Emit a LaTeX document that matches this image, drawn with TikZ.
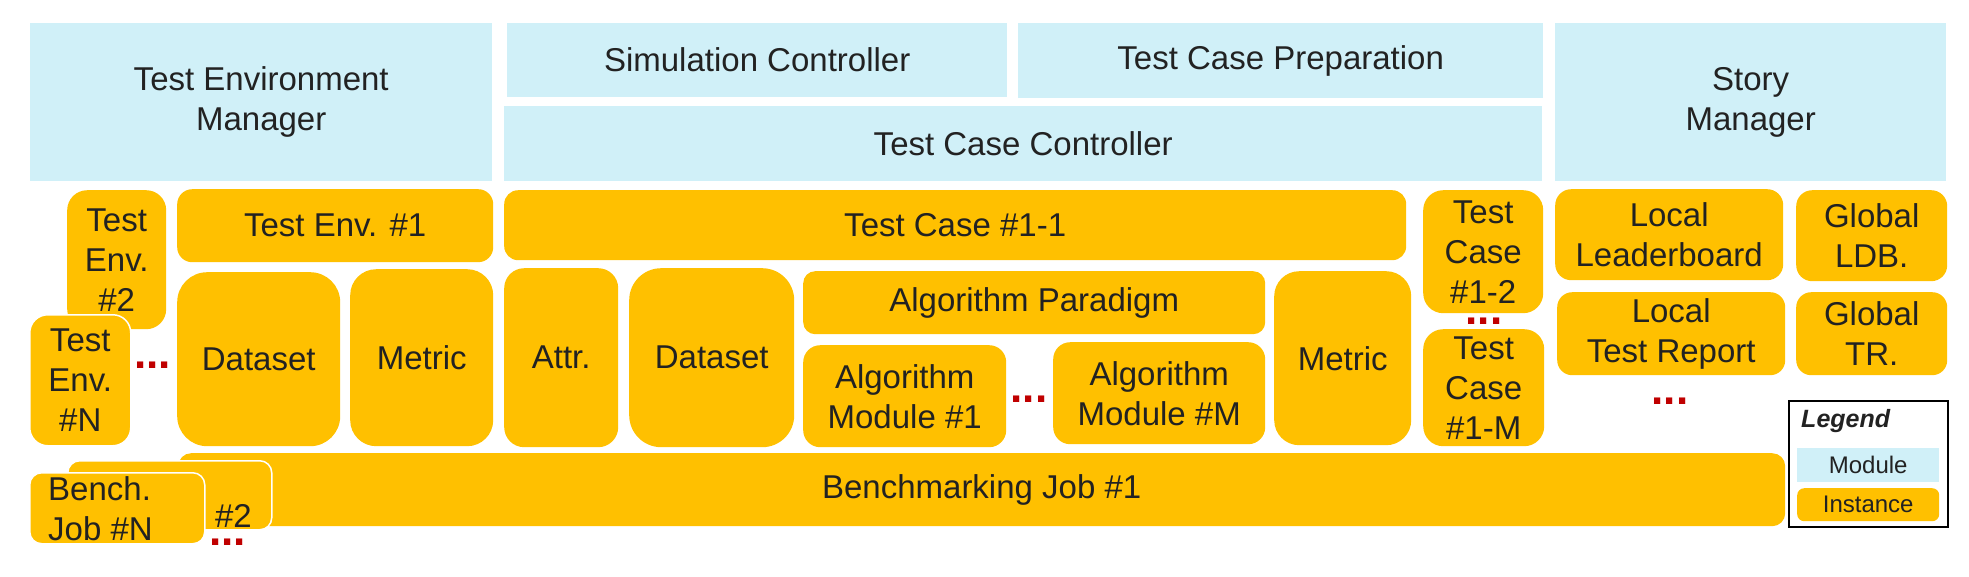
\documentclass[tikz,border=0pt]{standalone}
\usepackage{fontspec}
\setmainfont{Liberation Sans}
\definecolor{modcol}{RGB}{208,240,248}
\definecolor{instcol}{RGB}{255,192,0}
\definecolor{dotcol}{RGB}{192,0,0}
\definecolor{txtcol}{RGB}{34,34,34}
\tikzset{
    box/.style={anchor=north west, inner sep=0pt, align=center, text=txtcol, font=\fontsize{33}{40}\selectfont},
    sz/.style 2 args={minimum width=#1pt, minimum height=#2pt},
    module/.style={box, fill=modcol},
    inst/.style={box, fill=instcol, rounded corners=#1},
    inst/.default=14pt,
    over/.style={draw=white, line width=1.5pt},
    moredots/.style={anchor=base, inner sep=0pt, text=dotcol, font=\fontsize{44}{44}\selectfont\bfseries},
    small/.style={font=\fontsize{24}{28}\selectfont},
}
\begin{document}
\begin{tikzpicture}[x=1pt,y=-1pt]
                \useasboundingbox (0,0) rectangle (1969,576);
                % modules
                \node[module, sz={462}{158}] (envMgr) at (30,23) {Test Environment\\Manager};
                \node[module, sz={500}{74}] (simCtrl) at (507,23) {Simulation Controller};
                \node[module, sz={525}{75}] (casePrep) at (1018,23) {Test Case Preparation};
                \node[module, sz={1038}{75}] (caseCtrl) at (504,106) {Test Case Controller};
                \node[module, sz={391}{158}] (storyMgr) at (1555,23) {Story\\Manager};
                % test environments
                \node[inst=20pt, sz={99}{139}] (envTwo) at (67,190) {Test\\Env.\\\#2};
                \node[inst=18pt, over, sz={101}{131}] (envN) at (29,314) {Test\\Env.\\\#N};
                \node[moredots] (envDots) at (152.5,368) {...};
                \node[inst=15pt, sz={316}{73}] (envOne) at (177,189) {Test Env. \#1};
                \node[inst=30pt, sz={163}{174}] (envData) at (177,272) {Dataset};
                \node[inst=26pt, sz={143}{177}] (envMetric) at (350,269) {Metric};
                % test cases
                \node[inst, sz={902}{70}] (caseOne) at (504,190) {Test Case \#1-1};
                \node[inst=20pt, sz={114}{179}] (caseAttr) at (504,268) {Attr.};
                \node[inst=32pt, sz={165}{179}] (caseData) at (629,268) {Dataset};
                \node[inst=12pt, sz={462}{63}] (algPara) at (803,271) {Algorithm Paradigm};
                \node[inst=17pt, sz={203}{102}] (algOne) at (803,345) {Algorithm\\Module \#1};
                \node[moredots] (algDots) at (1029,402) {...};
                \node[inst=17pt, sz={212}{102}] (algM) at (1053,342) {Algorithm\\Module \#M};
                \node[inst=25pt, sz={137}{174}] (caseMetric) at (1274,271) {Metric};
                \node[inst=20pt, sz={120}{123}] (caseTwo) at (1423,190) {Test\\Case\\\#1-2};
                \node[moredots] (caseDots) at (1484,324) {...};
                \node[inst=20pt, sz={121}{117}] (caseM) at (1423,329) {Test\\Case\\\#1-M};
                % stories
                \node[inst=16pt, sz={228}{91}] (ldbLocal) at (1555,189) {Local\\Leaderboard};
                \node[inst=16pt, sz={151}{91}] (ldbGlobal) at (1796,190) {Global\\LDB.};
                \node[inst=15pt, sz={228}{83}] (trLocal) at (1557,292) {Local\\Test Report};
                \node[inst=15pt, sz={151}{83}] (trGlobal) at (1796,292) {Global\\TR.};
                \node[moredots] (storyDots) at (1670,404) {...};
                % benchmarking jobs
                \node[inst=13pt, sz={1607}{73}] (jobOne) at (178,453) {Benchmarking Job \#1};
                \node[inst=12pt, over, sz={204}{69}] (jobTwo) at (67,460) {};
                \node[anchor=base, inner sep=0pt, text=txtcol, font=\fontsize{33}{40}\selectfont] (jobTwoText) at (233.5,527) {\#2};
                \node[inst=12pt, over, sz={175}{71}] (jobN) at (29,472) {};
                \node[anchor=west, inner sep=0pt, align=left, text=txtcol, font=\fontsize{33}{40}\selectfont] (jobNText) at (48,508.7) {Bench.\\Job \#N};
                \node[moredots] (jobDots) at (227.5,545) {...};
                % legend
                \node[draw=black, line width=2pt, anchor=north west, inner sep=0pt, sz={159}{126}] (legend) at (1788,400) {};
                \node[anchor=base west, inner sep=0pt, text=txtcol, font=\fontsize{25}{30}\selectfont\bfseries\itshape] (legendTitle) at (1801,427) {Legend};
                \node[module, small, sz={142}{34}] (legendModule) at (1797,448) {Module};
                \node[inst=7pt, small, sz={142}{33}] (legendInst) at (1797,488) {Instance};
\end{tikzpicture}
\end{document}
